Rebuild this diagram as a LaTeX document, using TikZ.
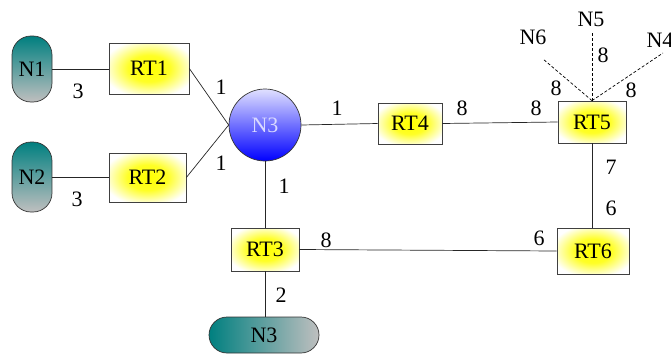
\documentclass[tikz,border=0pt]{standalone}
\usepackage{fontspec}
\setmainfont{Liberation Serif}
\newfontfamily\timesfont{Liberation Serif}
\usetikzlibrary{positioning}

\pgfdeclareradialshading{glow}{\pgfpoint{0bp}{0bp}}{%
  color(0bp)=(yellow); color(13bp)=(yellow!85!white); color(29bp)=(white); color(50bp)=(white)}

\begin{document}
\begin{tikzpicture}[
    x=1pt, y=-1pt,
    font=\timesfont\fontsize{22}{24}\selectfont,
    router/.style={draw=black!75, line width=0.7pt, shading=glow, minimum width=#1, minimum height=48pt, inner sep=0pt},
    router/.default=76pt,
    vnet/.style={draw=black!80, line width=0.7pt, rounded corners=19pt, minimum width=40pt, minimum height=66pt, inner sep=0pt, top color=teal, bottom color=black!25},
    hnet/.style={draw=black!80, line width=0.7pt, rounded corners=18pt, minimum width=110pt, minimum height=36pt, inner sep=0pt, left color=teal, right color=black!25},
    hub/.style={circle, draw=black!80, line width=0.7pt, minimum size=72pt, inner sep=0pt, top color=blue!12!white, bottom color=blue, text=white!85!blue},
    link/.style={line width=0.7pt, black!85},
    stub/.style={line width=0.7pt, dashed, dash pattern=on 3pt off 2pt},
    cost/.style={inner sep=0pt}
]
\useasboundingbox (0,0) rectangle (671,356);

% Networks and routers
\node[vnet] (net1) at (32,69) {N1};
\node[vnet, minimum height=70pt] (net2) at (32,177) {N2};
\node[router=80pt, minimum height=51pt] (rt1) at (149,68.5) {RT1};
\node[router=77pt, minimum height=49pt] (rt2) at (147.5,177.5) {RT2};
\node[hub] (n3) at (265,125) {N3};
\node[router=64pt, minimum height=41pt] (rt4) at (410,123.5) {RT4};
\node[router=68pt, minimum height=42pt] (rt5) at (592,122) {RT5};
\node[router=68pt, minimum height=43pt] (rt3) at (265,249.5) {RT3};
\node[router=72pt, minimum height=46pt] (rt6) at (593,251) {RT6};
\node[hnet] (net3) at (264,335) {N3};

% Stub networks on RT5
\node (n6) at (533,37) {N6};
\node (n5) at (591,19) {N5};
\node (n4) at (660,40) {N4};
\coordinate (e6) at (543,59);
\coordinate (e5) at (592,33);
\coordinate (e4) at (663,53);

% Links
\draw[link] (net1.east) -- (rt1.west |- net1.east);
\draw[link] (net2.east) -- (rt2.west |- net2.east);
\draw[link] (rt1.east) -- (n3.west);
\draw[link] (rt2.east) -- (n3.west);
\draw[link] (n3.east) -- (rt4.west);
\draw[link] (rt4.east) -- (rt5.west);
\draw[link] (n3.south) -- (rt3.north);
\draw[link] (rt3.east) -- (rt6.west);
\draw[link] (rt5.south) -- (rt6.north -| rt5.south);
\draw[link] (rt3.south) -- (net3.north -| rt3.south);
\draw[stub] (rt5.north) -- (e6);
\draw[stub] (rt5.north) -- (e5);
\draw[stub] (rt5.north) -- (e4);

% Costs
\node[cost] (c1) at (78,91) {3};
\node[cost] (c2) at (77,199) {3};
\node[cost] (c3) at (221,87) {1};
\node[cost] (c4) at (221,163) {1};
\node[cost] (c5) at (337,108) {1};
\node[cost] (c6) at (462,108) {8};
\node[cost] (c7) at (536,108) {8};
\node[cost] (c8) at (556,88) {8};
\node[cost] (c9) at (603,55) {8};
\node[cost] (c10) at (631,90) {8};
\node[cost] (c11) at (611,167) {7};
\node[cost] (c12) at (611,208) {6};
\node[cost] (c13) at (284,186) {1};
\node[cost] (c14) at (326,240) {8};
\node[cost] (c15) at (539,238) {6};
\node[cost] (c16) at (281,295) {2};
\end{tikzpicture}
\end{document}
